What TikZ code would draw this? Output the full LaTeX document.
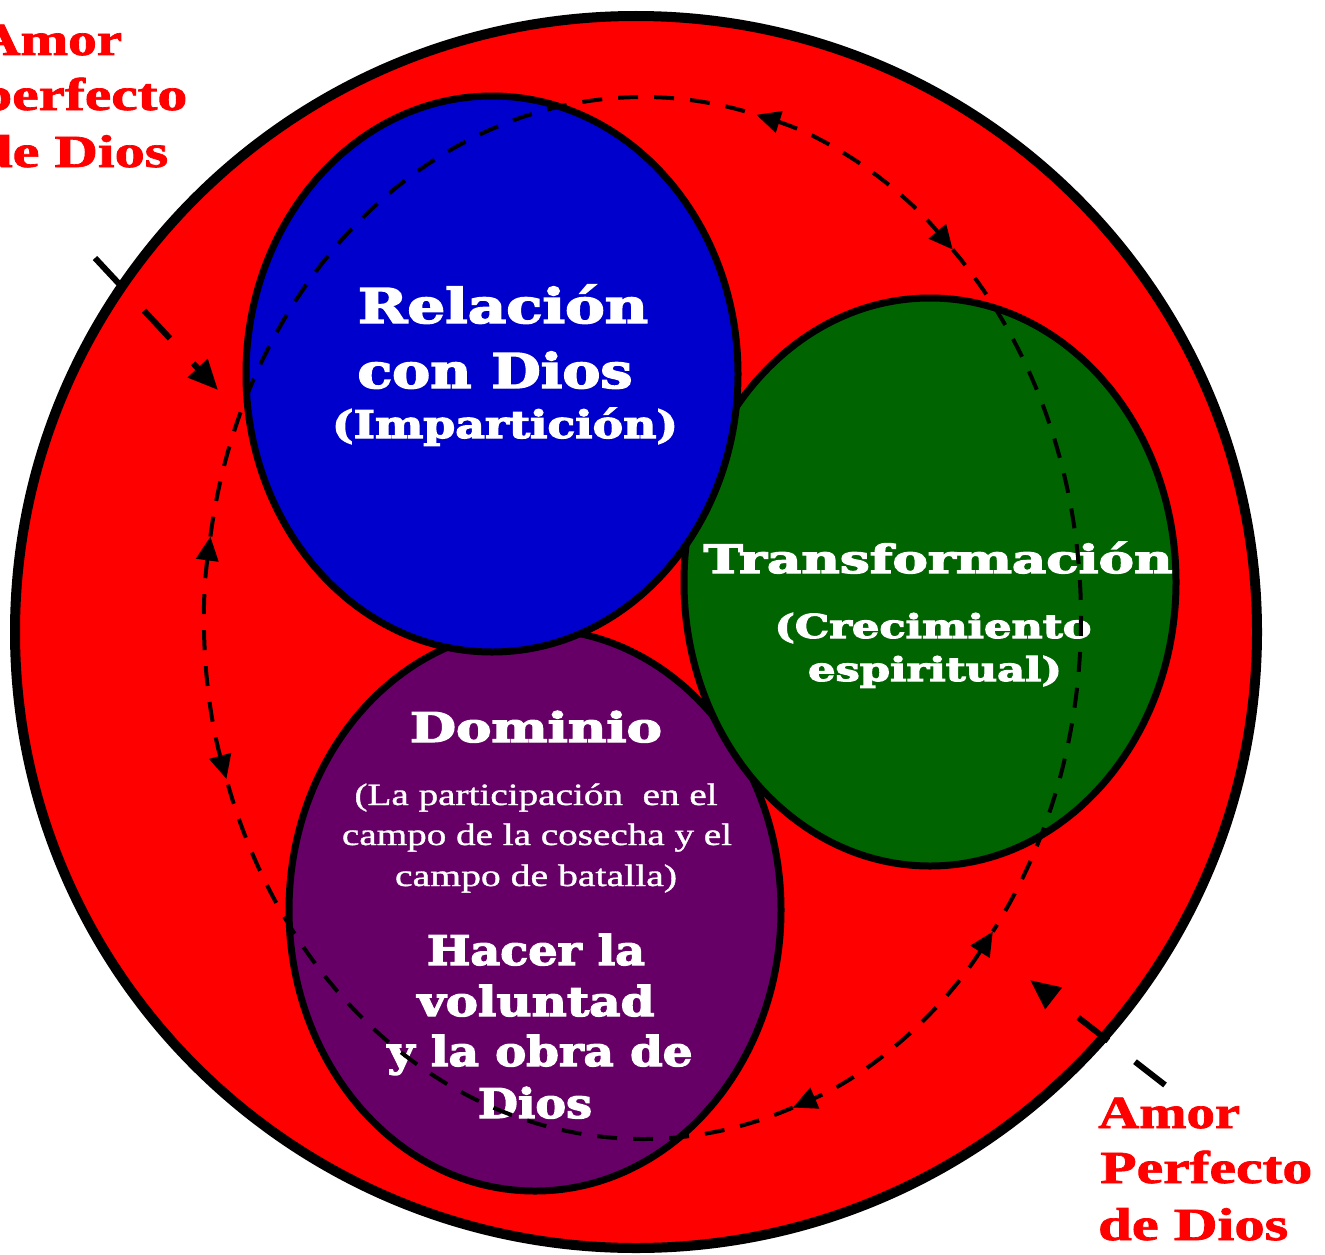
\documentclass[tikz,border=0pt]{standalone}
\usepackage{fontspec}
\usepackage{graphicx}
\usetikzlibrary{arrows.meta,shapes.geometric}
\setmainfont{Liberation Serif}[BoldFeatures={FakeBold=1.5}]
\newfontfamily\slabfont{DejaVu Serif}[BoldFeatures={FakeBold=3}]
\newfontfamily\smallserif{Liberation Serif}[FakeBold=1]
\definecolor{ringred}{RGB}{255,0,0}
\definecolor{relblue}{RGB}{0,0,204}
\definecolor{trgreen}{RGB}{0,100,0}
\definecolor{dompurple}{RGB}{102,0,102}
\newcommand{\wtxt}[3]{\resizebox{#1pt}{\height}{\fontsize{#2pt}{#2pt}\selectfont #3}}
\begin{document}
\begin{tikzpicture}[x=1pt,y=-1pt,
  disc/.style={ellipse, draw=black, line width=7pt, inner sep=0pt, outer sep=0pt},
  wtitle/.style={anchor=base, inner sep=0pt, text=white, font=\slabfont\bfseries},
  wsmall/.style={anchor=base, inner sep=0pt, text=white, font=\smallserif},
  amor/.style={anchor=base west, inner sep=0pt, text=ringred, font=\bfseries},
  cyc/.style={dash pattern=on 20pt off 16pt, line width=4pt},
  cyctip/.style={{Triangle[length=24pt,width=22pt]}-{Triangle[length=24pt,width=22pt]}},
  inarrow/.style={dash pattern=on 38pt off 34pt, line width=6pt, -{Triangle[length=30pt,width=26pt]}}
]
\useasboundingbox (0,0) rectangle (1325,1255);
\clip (0,0) rectangle (1325,1255);

% outer circle
\node[ellipse, draw=black, fill=ringred, line width=10pt, inner sep=0pt, minimum width=1242pt, minimum height=1232pt] (outer) at (636,632) {};

% inner circles
\node[disc, fill=dompurple, minimum width=492pt, minimum height=562pt] (dom) at (535,910) {};
\node[disc, fill=trgreen, minimum width=492pt, minimum height=568pt] (tra) at (930,582) {};
\node[disc, fill=relblue, minimum width=492pt, minimum height=556pt] (rel) at (492,374) {};

% texts: Relacion
\node[wtitle] (r1) at (503,323) {\wtxt{290}{48}{Relación}};
\node[wtitle] (r2) at (495,388) {\wtxt{275}{48}{con Dios}};
\node[wtitle] (r3) at (505,438) {\wtxt{346}{38}{(Impartición)}};

% Transformacion
\node[wtitle] (g1) at (938,573) {\wtxt{469}{39}{Transformación}};
\node[wtitle] (g2) at (933,638) {\wtxt{317}{33}{(Crecimiento}};
\node[wtitle] (g3) at (935,681) {\wtxt{254}{33}{espiritual)}};

% Dominio
\node[wtitle] (d1) at (536,742) {\wtxt{252}{41}{Dominio}};
\node[wsmall] (d2) at (536,805) {\wtxt{363}{31}{(La participación~ en el}};
\node[wsmall] (d3) at (537,845) {\wtxt{390}{31}{campo de la cosecha y el}};
\node[wsmall] (d4) at (536,886) {\wtxt{282}{31}{campo de batalla)}};
\node[wtitle] (d5) at (536,965) {\wtxt{218}{41}{Hacer la}};
\node[wtitle] (d6) at (536,1016) {\wtxt{237}{41}{voluntad}};
\node[wtitle] (d7) at (540,1066) {\wtxt{305}{41}{y la obra de}};
\node[wtitle] (d8) at (535,1118) {\wtxt{114}{41}{Dios}};

% Amor perfecto de Dios (top-left, partly cut as in the picture)
\node[amor] (a1) at (-21,55) {\wtxt{143}{46}{Amor}};
\node[amor] (a2) at (-21,110) {\wtxt{208}{46}{perfecto}};
\node[amor] (a3) at (-21,167) {\wtxt{189}{46}{de Dios}};
% Amor Perfecto de Dios (bottom-right)
\node[amor] (b1) at (1098,1128) {\wtxt{142}{46}{Amor}};
\node[amor] (b2) at (1100,1183) {\wtxt{212}{46}{Perfecto}};
\node[amor] (b3) at (1098,1240) {\wtxt{190}{46}{de Dios}};

% dashed cycle
\coordinate (E) at (643,618);
\draw[cyc] (E) ++(-45:438 and 521) arc[start angle=-45, end angle=37, x radius=438, y radius=521];
\draw[cyc, cyctip] (E) ++(37:438 and 521) arc[start angle=37, end angle=70, x radius=438, y radius=521];
\draw[cyc] (E) ++(70:438 and 521) arc[start angle=70, end angle=162, x radius=438, y radius=521];
\draw[cyc, cyctip] (E) ++(162:438 and 521) arc[start angle=162, end angle=189, x radius=438, y radius=521];
\draw[cyc] (E) ++(189:438 and 521) arc[start angle=189, end angle=285, x radius=438, y radius=521];
\draw[cyc, cyctip] (E) ++(285:438 and 521) arc[start angle=285, end angle=315, x radius=438, y radius=521];

% incoming arrows of love
\coordinate (la) at (95,258);
\coordinate (lb) at (218,390);
\coordinate (ra) at (1165,1085);
\coordinate (rb) at (1030,980);
\draw[inarrow] (la) -- (lb);
\draw[inarrow] (ra) -- (rb);
\end{tikzpicture}
\end{document}
